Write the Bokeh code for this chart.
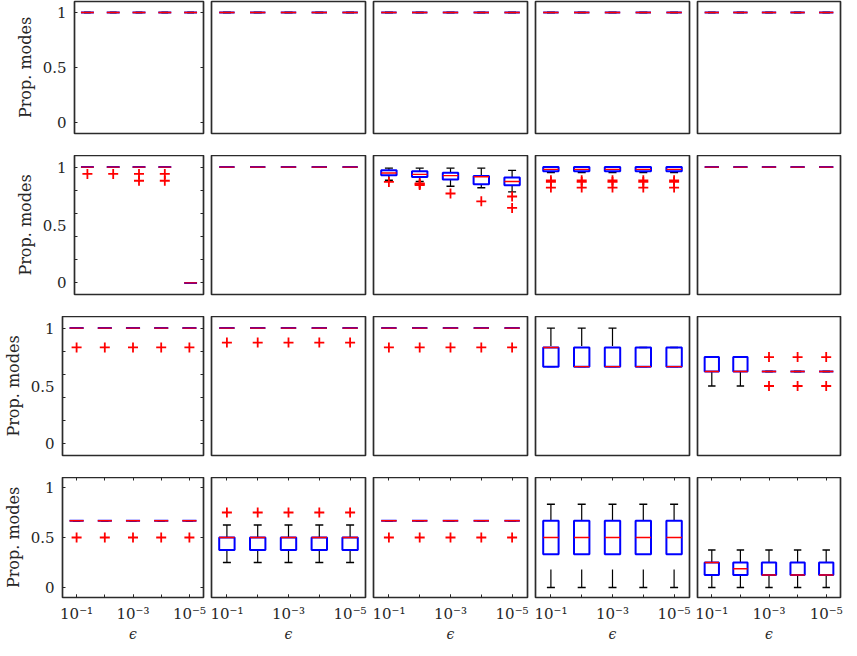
from bokeh.plotting import figure
from bokeh.layouts import row
from bokeh.models import LinearAxis, FixedTicker, ColumnDataSource, Range1d, Spacer
from bokeh.transform import dodge
from bokeh.embed import file_html
from bokeh.resources import INLINE

# ---------------- data ----------------
EPS_POS = [1, 2, 3, 4, 5]                      # epsilon = 1e-1 ... 1e-5
EPS_LABEL_POS = [1, 3, 5]
EPS_TICK_LABELS = {1: "10⁻¹", 3: "10⁻³", 5: "10⁻⁵"}
Y_LABEL_TICKS = [0, 0.5, 1]
Y_FINE_TICKS = [0, 0.2, 0.4, 0.6, 0.8, 1]
Y_LABEL = "Prop. modes"
X_LABEL = "ϵ"

# each stat: 5 panels x 5 boxes
R1_LO  = [[1, 1, 1, 1, 1], [1, 1, 1, 1, 1], [1, 1, 1, 1, 1], [1, 1, 1, 1, 1], [1, 1, 1, 1, 1]]
R1_Q1  = [[1, 1, 1, 1, 1], [1, 1, 1, 1, 1], [1, 1, 1, 1, 1], [1, 1, 1, 1, 1], [1, 1, 1, 1, 1]]
R1_MED = [[1, 1, 1, 1, 1], [1, 1, 1, 1, 1], [1, 1, 1, 1, 1], [1, 1, 1, 1, 1], [1, 1, 1, 1, 1]]
R1_Q3  = [[1, 1, 1, 1, 1], [1, 1, 1, 1, 1], [1, 1, 1, 1, 1], [1, 1, 1, 1, 1], [1, 1, 1, 1, 1]]
R1_HI  = [[1, 1, 1, 1, 1], [1, 1, 1, 1, 1], [1, 1, 1, 1, 1], [1, 1, 1, 1, 1], [1, 1, 1, 1, 1]]
R1_OUT = [[[], [], [], [], []], [[], [], [], [], []], [[], [], [], [], []],
          [[], [], [], [], []], [[], [], [], [], []]]

R2_LO  = [[1, 1, 1, 1, 0], [1, 1, 1, 1, 1], [0.886, 0.875, 0.835, 0.821, 0.786],
          [0.952, 0.952, 0.952, 0.952, 0.952], [1, 1, 1, 1, 1]]
R2_Q1  = [[1, 1, 1, 1, 0], [1, 1, 1, 1, 1], [0.929, 0.915, 0.892, 0.852, 0.843],
          [0.963, 0.963, 0.963, 0.963, 0.963], [1, 1, 1, 1, 1]]
R2_MED = [[1, 1, 1, 1, 0], [1, 1, 1, 1, 1], [0.949, 0.937, 0.926, 0.917, 0.875],
          [0.98, 0.98, 0.98, 0.98, 0.98], [1, 1, 1, 1, 1]]
R2_Q3  = [[1, 1, 1, 1, 0], [1, 1, 1, 1, 1], [0.972, 0.963, 0.952, 0.923, 0.909],
          [1, 1, 1, 1, 1], [1, 1, 1, 1, 1]]
R2_HI  = [[1, 1, 1, 1, 0], [1, 1, 1, 1, 1], [0.991, 0.991, 0.991, 0.991, 0.972],
          [1, 1, 1, 1, 1], [1, 1, 1, 1, 1]]
R2_OUT = [[[0.941], [0.941], [0.941, 0.882], [0.941, 0.882], []],
          [[], [], [], [], []],
          [[0.872], [0.86, 0.852, 0.845], [0.772], [0.704], [0.746, 0.647]],
          [[0.886, 0.872, 0.823], [0.886, 0.872, 0.823], [0.886, 0.872, 0.823],
           [0.886, 0.872, 0.823], [0.886, 0.872, 0.823]],
          [[], [], [], [], []]]

R3_LO  = [[1, 1, 1, 1, 1], [1, 1, 1, 1, 1], [1, 1, 1, 1, 1],
          [0.667, 0.667, 0.667, 0.667, 0.667], [0.5, 0.5, 0.625, 0.625, 0.625]]
R3_Q1  = [[1, 1, 1, 1, 1], [1, 1, 1, 1, 1], [1, 1, 1, 1, 1],
          [0.667, 0.667, 0.667, 0.667, 0.667], [0.625, 0.625, 0.625, 0.625, 0.625]]
R3_MED = [[1, 1, 1, 1, 1], [1, 1, 1, 1, 1], [1, 1, 1, 1, 1],
          [0.833, 0.667, 0.667, 0.667, 0.667], [0.625, 0.625, 0.625, 0.625, 0.625]]
R3_Q3  = [[1, 1, 1, 1, 1], [1, 1, 1, 1, 1], [1, 1, 1, 1, 1],
          [0.833, 0.833, 0.833, 0.833, 0.833], [0.75, 0.75, 0.625, 0.625, 0.625]]
R3_HI  = [[1, 1, 1, 1, 1], [1, 1, 1, 1, 1], [1, 1, 1, 1, 1],
          [1, 1, 1, 0.833, 0.833], [0.75, 0.75, 0.625, 0.625, 0.625]]
R3_OUT = [[[0.833], [0.833], [0.833], [0.833], [0.833]],
          [[0.875], [0.875], [0.875], [0.875], [0.875]],
          [[0.833], [0.833], [0.833], [0.833], [0.833]],
          [[], [], [], [], []],
          [[], [], [0.75, 0.5], [0.75, 0.5], [0.75, 0.5]]]

R4_LO  = [[0.667, 0.667, 0.667, 0.667, 0.667], [0.25, 0.25, 0.25, 0.25, 0.25],
          [0.667, 0.667, 0.667, 0.667, 0.667], [0, 0, 0, 0, 0], [0, 0, 0, 0, 0]]
R4_Q1  = [[0.667, 0.667, 0.667, 0.667, 0.667], [0.375, 0.375, 0.375, 0.375, 0.375],
          [0.667, 0.667, 0.667, 0.667, 0.667], [0.333, 0.333, 0.333, 0.333, 0.333],
          [0.125, 0.125, 0.125, 0.125, 0.125]]
R4_MED = [[0.667, 0.667, 0.667, 0.667, 0.667], [0.5, 0.5, 0.5, 0.5, 0.5],
          [0.667, 0.667, 0.667, 0.667, 0.667], [0.5, 0.5, 0.5, 0.5, 0.5],
          [0.25, 0.1875, 0.125, 0.125, 0.125]]
R4_Q3  = [[0.667, 0.667, 0.667, 0.667, 0.667], [0.5, 0.5, 0.5, 0.5, 0.5],
          [0.667, 0.667, 0.667, 0.667, 0.667], [0.667, 0.667, 0.667, 0.667, 0.667],
          [0.25, 0.25, 0.25, 0.25, 0.25]]
R4_HI  = [[0.667, 0.667, 0.667, 0.667, 0.667], [0.625, 0.625, 0.625, 0.625, 0.625],
          [0.667, 0.667, 0.667, 0.667, 0.667], [0.833, 0.833, 0.833, 0.833, 0.833],
          [0.375, 0.375, 0.375, 0.375, 0.375]]
R4_OUT = [[[0.5], [0.5], [0.5], [0.5], [0.5]],
          [[0.75], [0.75], [0.75], [0.75], [0.75]],
          [[0.5], [0.5], [0.5], [0.5], [0.5]],
          [[], [], [], [], []],
          [[], [], [], [], []]]

ROW_STATS = [
    (R1_LO, R1_Q1, R1_MED, R1_Q3, R1_HI, R1_OUT),
    (R2_LO, R2_Q1, R2_MED, R2_Q3, R2_HI, R2_OUT),
    (R3_LO, R3_Q1, R3_MED, R3_Q3, R3_HI, R3_OUT),
    (R4_LO, R4_Q1, R4_MED, R4_Q3, R4_HI, R4_OUT),
]

# ---------------- layout / style ----------------
FONT = "DejaVu Serif"
TXT = "#262626"
FRAME = "#2b2b2b"
LEFT_BORDER = 57
ROW_GEOM = [  # (indent, frame widths, top border, frame height, bottom border)
    (12, [129, 154, 154, 154, 143], 1, 132, 22),
    (12, [129, 154, 154, 154, 143], 0, 139, 22),
    (0, [141, 154, 154, 154, 143], 0, 139, 22),
    (0, [141, 154, 154, 154, 143], 0, 120, 42),
]
GAP = 4
BOX_W = 0.5
CAP_W = 0.26


def tick_axis(ticks, minor, major_in, minor_in, **kw):
    ax = LinearAxis(ticker=FixedTicker(ticks=ticks, minor_ticks=minor), **kw)
    ax.major_tick_in = major_in
    ax.major_tick_out = 0
    ax.minor_tick_in = minor_in
    ax.minor_tick_out = 0
    ax.major_tick_line_color = TXT
    ax.minor_tick_line_color = TXT
    ax.major_tick_line_width = 1
    ax.minor_tick_line_width = 1
    ax.axis_line_color = None
    ax.major_label_standoff = 0
    return ax


def make_panel(r, c):
    indent, widths, tb, fh, bb = ROW_GEOM[r]
    lo, q1, med, q3, hi, out = (s[c] for s in ROW_STATS[r])
    p = figure(frame_width=widths[c], frame_height=fh,
               x_range=Range1d(0.5, 5.5), y_range=Range1d(-0.1, 1.1),
               x_axis_type=None, y_axis_type=None,
               toolbar_location=None, output_backend="svg",
               min_border_left=(LEFT_BORDER if c == 0 else GAP),
               min_border_right=(GAP if c < 4 else 3),
               min_border_top=tb, min_border_bottom=bb)
    p.outline_line_color = FRAME
    p.outline_line_width = 1.7
    p.outline_line_alpha = 1.0
    p.background_fill_color = "white"
    p.border_fill_color = "white"

    if c == 0:
        fine = r in (1, 2)
        ax = tick_axis(Y_LABEL_TICKS, (Y_FINE_TICKS if fine else []),
                       (0 if fine else 3), 3, axis_label=Y_LABEL)
        ax.major_label_text_font = FONT
        ax.major_label_text_font_size = "15px"
        ax.major_label_text_color = TXT
        ax.major_label_standoff = 8
        ax.axis_label_text_font = FONT
        ax.axis_label_text_font_size = "16px"
        ax.axis_label_text_font_style = "normal"
        ax.axis_label_text_color = TXT
        ax.axis_label_standoff = 5
        p.add_layout(ax, "left")
        axr = tick_axis([], (Y_FINE_TICKS if fine else Y_LABEL_TICKS), 0, 3)
        p.add_layout(axr, "right")

    if r == 3:
        axb = tick_axis(EPS_LABEL_POS, EPS_POS, 3, 3, axis_label=X_LABEL)
        axb.major_label_overrides = EPS_TICK_LABELS
        axb.major_label_text_font = FONT
        axb.major_label_text_font_size = "15px"
        axb.major_label_text_color = TXT
        axb.major_label_standoff = 7
        axb.axis_label_text_font = FONT
        axb.axis_label_text_font_size = "14px"
        axb.axis_label_text_font_style = "italic"
        axb.axis_label_text_color = TXT
        axb.axis_label_standoff = 0
        p.add_layout(axb, "below")
        axt = tick_axis([], EPS_POS, 0, 3)
        p.add_layout(axt, "above")

    src = ColumnDataSource(dict(x=EPS_POS, lo=lo, q1=q1, med=med, q3=q3, hi=hi))
    # whiskers (dashed, drawn from the cap towards the box)
    p.segment(x0="x", y0="hi", x1="x", y1="q3", source=src,
              line_color="black", line_width=1.2, line_dash="18 15")
    p.segment(x0="x", y0="lo", x1="x", y1="q1", source=src,
              line_color="black", line_width=1.2, line_dash="18 15")
    # caps
    p.segment(x0=dodge("x", -CAP_W / 2), y0="hi", x1=dodge("x", CAP_W / 2), y1="hi",
              source=src, line_color="black", line_width=1.4)
    p.segment(x0=dodge("x", -CAP_W / 2), y0="lo", x1=dodge("x", CAP_W / 2), y1="lo",
              source=src, line_color="black", line_width=1.4)
    # boxes
    p.vbar(x="x", width=BOX_W, bottom="q1", top="q3", source=src,
           fill_color=None, line_color="#0000ff", line_width=2.0)
    # medians
    p.segment(x0=dodge("x", -BOX_W / 2), y0="med", x1=dodge("x", BOX_W / 2), y1="med",
              source=src, line_color="#ff0000", line_width=1.4)
    # outliers
    ox, oy = [], []
    for xi, vals in zip(EPS_POS, out):
        for v in vals:
            ox.append(xi)
            oy.append(v)
    if ox:
        p.scatter(ox, oy, marker="cross", size=10, line_color="#ff0000", line_width=1.8)
    return p


rows = []
for r in range(4):
    indent = ROW_GEOM[r][0]
    kids = [make_panel(r, c) for c in range(5)]
    if indent:
        kids = [Spacer(width=indent, height=10)] + kids
    rows.append(row(kids, spacing=0))

open("out.html", "w").write(file_html(rows, INLINE, title="Prop. modes"))
